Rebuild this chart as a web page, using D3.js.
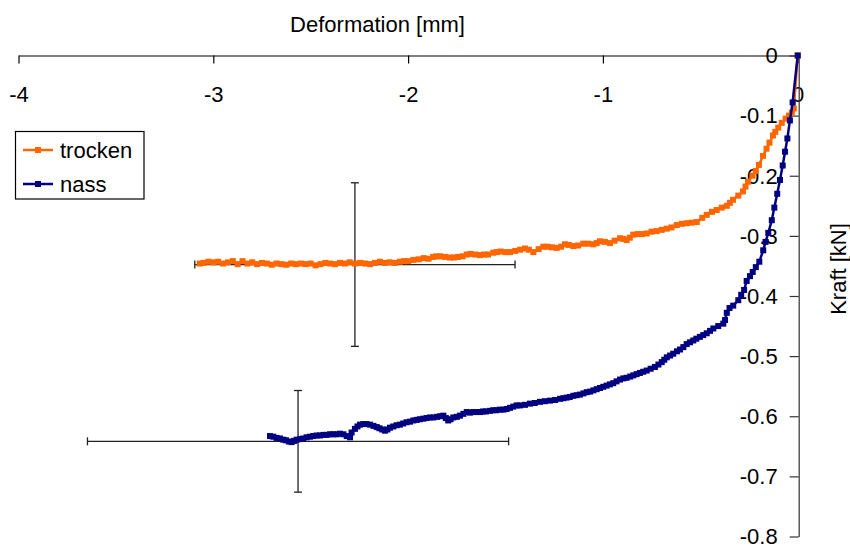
<!DOCTYPE html>
<html>
<head>
<meta charset="utf-8">
<script src="https://cdn.jsdelivr.net/npm/d3@7"></script>
<style>
  html, body { margin: 0; padding: 0; background: #fff; }
  svg { display: block; }
  text { font-family: "Liberation Sans", Arial, sans-serif; fill: #000; }
</style>
</head>
<body>
<svg id="chart" width="850" height="547"></svg>
<script>
// ---------- data ----------
const seriesNames = ["trocken", "nass"];

const trockenX = [0, -0.02, -0.03, -0.045, -0.062, -0.082, -0.1, -0.115, -0.127, -0.145, -0.16, -0.178, -0.199, -0.215, -0.232, -0.255, -0.268, -0.281, -0.305, -0.332, -0.348, -0.364, -0.39, -0.416, -0.44, -0.467, -0.49, -0.518, -0.545, -0.57, -0.595, -0.621, -0.648, -0.672, -0.698, -0.724, -0.75, -0.775, -0.8, -0.822, -0.844, -0.862, -0.878, -0.895, -0.912, -0.94, -0.964, -0.99, -1.015, -1.032, -1.049, -1.075, -1.101, -1.127, -1.152, -1.175, -1.195, -1.215, -1.237, -1.262, -1.285, -1.306, -1.33, -1.357, -1.38, -1.4, -1.425, -1.45, -1.477, -1.5, -1.525, -1.545, -1.563, -1.59, -1.61, -1.631, -1.655, -1.68, -1.699, -1.72, -1.745, -1.765, -1.785, -1.81, -1.835, -1.855, -1.871, -1.895, -1.92, -1.945, -1.973, -2.0, -2.02, -2.042, -2.07, -2.095, -2.12, -2.145, -2.17, -2.195, -2.22, -2.245, -2.273, -2.3, -2.325, -2.35, -2.375, -2.4, -2.425, -2.45, -2.475, -2.5, -2.525, -2.55, -2.575, -2.6, -2.625, -2.65, -2.675, -2.7, -2.725, -2.75, -2.775, -2.8, -2.825, -2.85, -2.875, -2.9, -2.925, -2.95, -2.975, -3.0, -3.025, -3.05, -3.07];
const trockenY = [0, -0.088, -0.095, -0.1, -0.105, -0.112, -0.12, -0.127, -0.133, -0.145, -0.155, -0.167, -0.182, -0.192, -0.2, -0.21, -0.218, -0.226, -0.233, -0.24, -0.245, -0.25, -0.253, -0.257, -0.26, -0.265, -0.27, -0.277, -0.278, -0.279, -0.28, -0.282, -0.286, -0.288, -0.29, -0.292, -0.293, -0.296, -0.297, -0.297, -0.298, -0.303, -0.307, -0.305, -0.304, -0.308, -0.312, -0.31, -0.309, -0.312, -0.314, -0.313, -0.313, -0.316, -0.317, -0.315, -0.314, -0.318, -0.32, -0.319, -0.318, -0.318, -0.322, -0.327, -0.323, -0.321, -0.323, -0.325, -0.327, -0.327, -0.326, -0.327, -0.328, -0.331, -0.331, -0.332, -0.331, -0.33, -0.331, -0.334, -0.335, -0.336, -0.336, -0.335, -0.334, -0.334, -0.335, -0.338, -0.337, -0.339, -0.34, -0.342, -0.342, -0.343, -0.345, -0.344, -0.345, -0.343, -0.345, -0.347, -0.346, -0.345, -0.346, -0.344, -0.346, -0.345, -0.347, -0.346, -0.345, -0.347, -0.349, -0.346, -0.347, -0.346, -0.347, -0.346, -0.348, -0.347, -0.346, -0.348, -0.346, -0.345, -0.347, -0.344, -0.346, -0.342, -0.347, -0.342, -0.344, -0.346, -0.343, -0.344, -0.343, -0.345, -0.346];

const nassX = [0, -0.026, -0.04, -0.053, -0.065, -0.077, -0.091, -0.105, -0.12, -0.133, -0.151, -0.165, -0.177, -0.197, -0.215, -0.231, -0.245, -0.262, -0.275, -0.29, -0.305, -0.331, -0.35, -0.364, -0.373, -0.382, -0.408, -0.433, -0.45, -0.467, -0.485, -0.502, -0.52, -0.536, -0.553, -0.57, -0.587, -0.604, -0.62, -0.639, -0.655, -0.672, -0.685, -0.698, -0.715, -0.733, -0.755, -0.775, -0.793, -0.81, -0.827, -0.844, -0.86, -0.878, -0.895, -0.912, -0.93, -0.947, -0.964, -0.981, -0.998, -1.015, -1.032, -1.049, -1.066, -1.083, -1.1, -1.118, -1.135, -1.152, -1.17, -1.186, -1.203, -1.22, -1.245, -1.272, -1.298, -1.323, -1.35, -1.374, -1.4, -1.426, -1.443, -1.46, -1.477, -1.494, -1.511, -1.53, -1.547, -1.563, -1.58, -1.6, -1.615, -1.631, -1.648, -1.665, -1.682, -1.699, -1.716, -1.734, -1.75, -1.768, -1.782, -1.794, -1.806, -1.819, -1.835, -1.852, -1.87, -1.888, -1.905, -1.922, -1.94, -1.956, -1.973, -1.99, -2.008, -2.025, -2.042, -2.059, -2.076, -2.093, -2.106, -2.119, -2.133, -2.147, -2.161, -2.178, -2.195, -2.213, -2.23, -2.247, -2.26, -2.273, -2.29, -2.298, -2.315, -2.332, -2.35, -2.367, -2.384, -2.401, -2.418, -2.435, -2.452, -2.47, -2.487, -2.504, -2.521, -2.538, -2.555, -2.572, -2.585, -2.598, -2.612, -2.627, -2.641, -2.658, -2.675, -2.692, -2.709];
const nassY = [0, -0.078, -0.108, -0.138, -0.16, -0.183, -0.207, -0.23, -0.253, -0.274, -0.295, -0.31, -0.324, -0.343, -0.352, -0.36, -0.367, -0.375, -0.39, -0.398, -0.407, -0.416, -0.42, -0.428, -0.44, -0.446, -0.45, -0.454, -0.458, -0.462, -0.465, -0.468, -0.471, -0.474, -0.477, -0.48, -0.485, -0.489, -0.492, -0.496, -0.499, -0.502, -0.506, -0.51, -0.514, -0.518, -0.521, -0.524, -0.526, -0.528, -0.53, -0.532, -0.534, -0.536, -0.537, -0.539, -0.542, -0.545, -0.547, -0.549, -0.551, -0.553, -0.555, -0.557, -0.559, -0.56, -0.562, -0.564, -0.565, -0.566, -0.568, -0.569, -0.57, -0.571, -0.573, -0.574, -0.575, -0.576, -0.578, -0.579, -0.581, -0.582, -0.582, -0.584, -0.586, -0.588, -0.589, -0.589, -0.59, -0.59, -0.591, -0.592, -0.592, -0.593, -0.593, -0.593, -0.594, -0.593, -0.596, -0.599, -0.601, -0.602, -0.605, -0.607, -0.603, -0.599, -0.6, -0.601, -0.602, -0.602, -0.603, -0.604, -0.605, -0.606, -0.607, -0.609, -0.61, -0.612, -0.614, -0.615, -0.617, -0.619, -0.622, -0.624, -0.622, -0.62, -0.618, -0.616, -0.614, -0.613, -0.613, -0.614, -0.617, -0.621, -0.627, -0.635, -0.633, -0.63, -0.629, -0.63, -0.63, -0.63, -0.631, -0.631, -0.632, -0.632, -0.633, -0.634, -0.635, -0.637, -0.638, -0.639, -0.641, -0.643, -0.642, -0.64, -0.639, -0.637, -0.636, -0.634, -0.633];

// error bars: centre and half-widths
const errCenterX = [-2.273, -2.565];
const errCenterY = [-0.3477, -0.6417];
const errHalfX = [0.822, 1.081];
const errHalfY = [0.136, 0.0845];

const xTickValues = [-4, -3, -2, -1, 0];
const xTickLabels = ["-4", "-3", "-2", "-1", "0"];
const yTickValues = [0, -0.1, -0.2, -0.3, -0.4, -0.5, -0.6, -0.7, -0.8];
const yTickLabels = ["0", "-0.1", "-0.2", "-0.3", "-0.4", "-0.5", "-0.6", "-0.7", "-0.8"];

const xTitle = "Deformation [mm]";
const yTitle = "Kraft [kN]";
const colors = ["#FF6600", "#000080"];

// ---------- chart ----------
const svg = d3.select("#chart");
const x = d3.scaleLinear().domain([-4, 0]).range([18.5, 797.7]);
const y = d3.scaleLinear().domain([0, -0.8]).range([55.5, 536.5]);
const FS = 22;

// X axis (at top, ticks pointing down)
const xAxis = d3.axisBottom(x).tickValues(xTickValues)
  .tickFormat((d, i) => xTickLabels[i]).tickSize(8).tickSizeOuter(0);
const gx = svg.append("g").attr("transform", `translate(0,${y(0)})`).call(xAxis);
gx.select(".domain").attr("stroke", "#000").attr("stroke-width", 1.2);
gx.selectAll(".tick line").attr("stroke", "#000").attr("stroke-width", 1.2);
gx.selectAll(".tick text").attr("font-size", FS).attr("y", 46.5).attr("dy", 0)
  .attr("font-family", "Liberation Sans, Arial, sans-serif").attr("fill", "#000");

// Y axis (at x = 0, ticks pointing left)
const yAxis = d3.axisLeft(y).tickValues(yTickValues)
  .tickFormat((d, i) => yTickLabels[i]).tickSize(9).tickSizeOuter(0);
const gy = svg.append("g").attr("transform", `translate(${x(0) + 1},0)`).call(yAxis);
gy.select(".domain").attr("stroke", "#333").attr("stroke-width", 1.2);
gy.selectAll(".tick line").attr("stroke", "#333").attr("stroke-width", 1.2);
gy.selectAll(".tick text").attr("font-size", FS).attr("x", -21).attr("dy", "0.33em")
  .attr("font-family", "Liberation Sans, Arial, sans-serif").attr("fill", "#000");

// Titles
svg.append("text").attr("x", 377.5).attr("y", 32).attr("text-anchor", "middle")
  .attr("font-size", FS).text(xTitle);
svg.append("text").attr("transform", "translate(846,269) rotate(-90)")
  .attr("text-anchor", "middle").attr("font-size", FS).text(yTitle);

// Error bars
const eb = svg.append("g").attr("stroke", "#222").attr("stroke-width", 1.3).attr("fill", "none");
errCenterX.forEach((cx, i) => {
  const cy = errCenterY[i];
  const x1 = x(cx - errHalfX[i]), x2 = x(cx + errHalfX[i]);
  const y1 = y(cy + errHalfY[i]), y2 = y(cy - errHalfY[i]);
  const px = x(cx), py = y(cy), c = 4;
  eb.append("line").attr("x1", x1).attr("x2", x2).attr("y1", py).attr("y2", py);
  eb.append("line").attr("x1", x1).attr("x2", x1).attr("y1", py - c).attr("y2", py + c);
  eb.append("line").attr("x1", x2).attr("x2", x2).attr("y1", py - c).attr("y2", py + c);
  eb.append("line").attr("x1", px).attr("x2", px).attr("y1", y1).attr("y2", y2);
  eb.append("line").attr("x1", px - c).attr("x2", px + c).attr("y1", y1).attr("y2", y1);
  eb.append("line").attr("x1", px - c).attr("x2", px + c).attr("y1", y2).attr("y2", y2);
});

// Series
const seriesData = [
  trockenX.map((v, i) => [v, trockenY[i]]),
  nassX.map((v, i) => [v, nassY[i]])
];
const line = d3.line().x(d => x(d[0])).y(d => y(d[1]));
const M = 6;
seriesData.forEach((pts, s) => {
  const g = svg.append("g");
  g.append("path").attr("d", line(pts)).attr("fill", "none")
    .attr("stroke", colors[s]).attr("stroke-width", 2.5);
  g.selectAll("rect").data(pts).join("rect")
    .attr("x", d => x(d[0]) - M / 2).attr("y", d => y(d[1]) - M / 2)
    .attr("width", M).attr("height", M).attr("fill", colors[s]);
});

// Legend
const lg = svg.append("g");
lg.append("rect").attr("x", 15.5).attr("y", 131.5).attr("width", 128.5).attr("height", 67.5)
  .attr("fill", "#fff").attr("stroke", "#000").attr("stroke-width", 1.2);
const legY = [150, 184];
const legBase = [158, 192];
seriesNames.forEach((name, i) => {
  lg.append("line").attr("x1", 23).attr("x2", 53).attr("y1", legY[i]).attr("y2", legY[i])
    .attr("stroke", colors[i]).attr("stroke-width", 2.5);
  lg.append("rect").attr("x", 38 - M / 2).attr("y", legY[i] - M / 2).attr("width", M).attr("height", M)
    .attr("fill", colors[i]);
  lg.append("text").attr("x", 60).attr("y", legBase[i]).attr("font-size", FS).text(name);
});
</script>
</body>
</html>
